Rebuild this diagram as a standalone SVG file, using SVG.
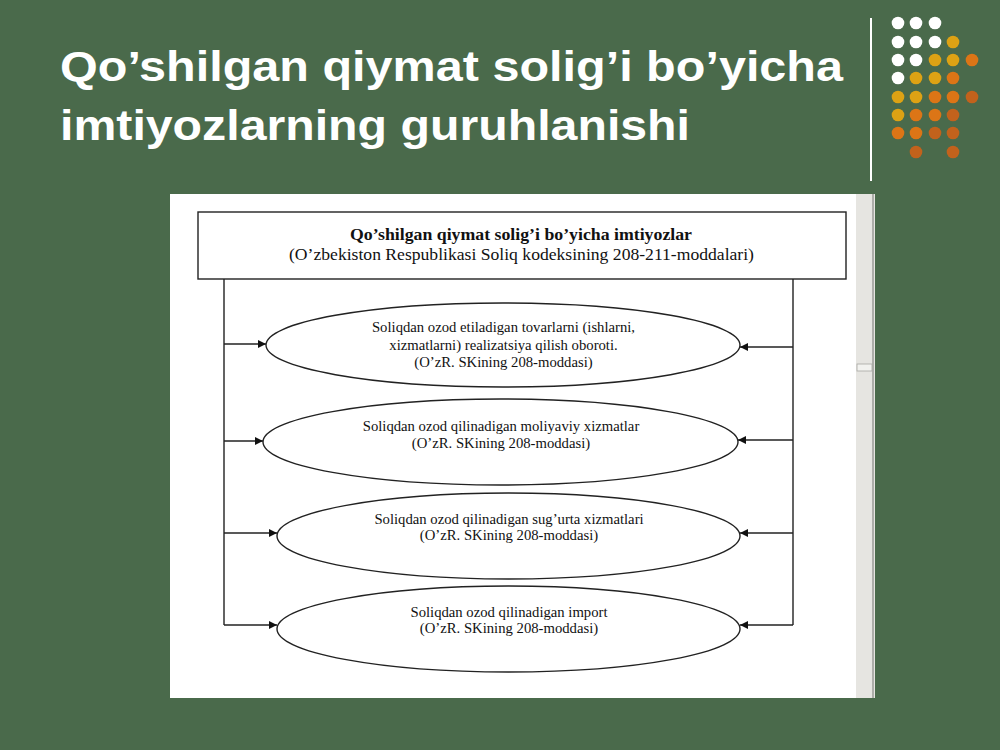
<svg xmlns="http://www.w3.org/2000/svg" width="1000" height="750" viewBox="0 0 1000 750">
<defs>
<marker id="ah" viewBox="0 0 10 10" refX="10" refY="5" markerWidth="9" markerHeight="8" markerUnits="userSpaceOnUse" orient="auto">
<path d="M0,0 L10,5 L0,10 z" fill="#111"/>
</marker>
<style>
.title{font-family:"Liberation Sans",Arial,sans-serif;font-weight:bold;font-size:42px;fill:#fff}
.t{font-family:"Liberation Serif","Times New Roman",serif;font-size:14.7px;fill:#111;text-anchor:middle}
.hb{font-family:"Liberation Serif","Times New Roman",serif;font-size:17px;font-weight:bold;fill:#111;text-anchor:middle}
.h{font-family:"Liberation Serif","Times New Roman",serif;font-size:17px;fill:#111;text-anchor:middle}
.ell{fill:#fff;stroke:#222;stroke-width:1.4}
.con{stroke:#222;stroke-width:1.4;fill:none}
.w{fill:#fff}.g{fill:#dda214}.o{fill:#dc7516}.d{fill:#c2621c}
</style>
</defs>
<rect width="1000" height="750" fill="#4a6a4b"/>
<text class="title" x="60" y="81" textLength="783" lengthAdjust="spacingAndGlyphs">Qo’shilgan qiymat solig’i bo’yicha</text>
<text class="title" x="60" y="140" textLength="630" lengthAdjust="spacingAndGlyphs">imtiyozlarning guruhlanishi</text>
<line x1="871" y1="18" x2="871" y2="181" stroke="#fff" stroke-width="2"/>
<g id="dots">
<circle class="w" cx="898" cy="23" r="6.3"/><circle class="w" cx="916" cy="23" r="6.3"/><circle class="w" cx="935" cy="23" r="6.3"/>
<circle class="w" cx="898" cy="42" r="6.3"/><circle class="w" cx="916" cy="42" r="6.3"/><circle class="w" cx="935" cy="42" r="6.3"/><circle class="g" cx="953" cy="42" r="6.3"/>
<circle class="w" cx="898" cy="60" r="6.3"/><circle class="w" cx="916" cy="60" r="6.3"/><circle class="g" cx="935" cy="60" r="6.3"/><circle class="g" cx="953" cy="60" r="6.3"/><circle class="o" cx="972" cy="60" r="6.3"/>
<circle class="w" cx="898" cy="78" r="6.3"/><circle class="g" cx="916" cy="78" r="6.3"/><circle class="g" cx="935" cy="78" r="6.3"/><circle class="o" cx="953" cy="78" r="6.3"/>
<circle class="g" cx="898" cy="97" r="6.3"/><circle class="g" cx="916" cy="97" r="6.3"/><circle class="o" cx="935" cy="97" r="6.3"/><circle class="o" cx="953" cy="97" r="6.3"/><circle class="d" cx="972" cy="97" r="6.3"/>
<circle class="g" cx="898" cy="115" r="6.3"/><circle class="o" cx="916" cy="115" r="6.3"/><circle class="o" cx="935" cy="115" r="6.3"/><circle class="d" cx="953" cy="115" r="6.3"/>
<circle class="o" cx="898" cy="133" r="6.3"/><circle class="o" cx="916" cy="133" r="6.3"/><circle class="d" cx="935" cy="133" r="6.3"/><circle class="d" cx="953" cy="133" r="6.3"/>
<circle class="d" cx="916" cy="152" r="6.3"/><circle class="d" cx="953" cy="152" r="6.3"/>
</g>
<rect x="170" y="194" width="686" height="504" fill="#fff"/>
<rect x="856" y="194" width="19" height="504" fill="#e6e5e1"/>
<line x1="873" y1="194" x2="873" y2="698" stroke="#9a9a96" stroke-width="1.5"/>
<rect x="857" y="364" width="15" height="7" fill="#f2f2ef" stroke="#a8a8a4" stroke-width="0.8"/>
<g id="connectors">
<path class="con" d="M224,279 V625 M793,279 V625"/>
<line class="con" x1="224" y1="344" x2="266" y2="344" marker-end="url(#ah)"/>
<line class="con" x1="793" y1="347" x2="740" y2="347" marker-end="url(#ah)"/>
<line class="con" x1="224" y1="441" x2="263" y2="441" marker-end="url(#ah)"/>
<line class="con" x1="793" y1="440" x2="738" y2="440" marker-end="url(#ah)"/>
<line class="con" x1="224" y1="533" x2="277" y2="533" marker-end="url(#ah)"/>
<line class="con" x1="793" y1="533" x2="740" y2="533" marker-end="url(#ah)"/>
<line class="con" x1="224" y1="625" x2="277" y2="625" marker-end="url(#ah)"/>
<line class="con" x1="793" y1="625" x2="740" y2="625" marker-end="url(#ah)"/>
</g>
<g id="header">
<rect x="198" y="212" width="648" height="67" fill="#fff" stroke="#222" stroke-width="1.4"/>
<text class="hb" x="521" y="240" textLength="342" lengthAdjust="spacingAndGlyphs">Qo’shilgan qiymat solig’i bo’yicha imtiyozlar</text>
<text class="h" x="521.5" y="260" textLength="465" lengthAdjust="spacingAndGlyphs">(O’zbekiston Respublikasi Soliq kodeksining 208-211-moddalari)</text>
</g>
<g id="n1">
<ellipse class="ell" cx="503" cy="345" rx="237" ry="42"/>
<text class="t" x="503.5" y="332">Soliqdan ozod etiladigan tovarlarni (ishlarni,</text>
<text class="t" x="503.5" y="350">xizmatlarni) realizatsiya qilish oboroti.</text>
<text class="t" x="503.5" y="367">(O’zR. SKining 208-moddasi)</text>
</g>
<g id="n2">
<ellipse class="ell" cx="500.5" cy="442" rx="237.5" ry="43"/>
<text class="t" x="501" y="431">Soliqdan ozod qilinadigan moliyaviy xizmatlar</text>
<text class="t" x="501" y="448">(O’zR. SKining 208-moddasi)</text>
</g>
<g id="n3">
<ellipse class="ell" cx="508.5" cy="536" rx="231.5" ry="43"/>
<text class="t" x="509" y="524">Soliqdan ozod qilinadigan sug’urta xizmatlari</text>
<text class="t" x="509" y="540">(O’zR. SKining 208-moddasi)</text>
</g>
<g id="n4">
<ellipse class="ell" cx="508.5" cy="629" rx="231.5" ry="43"/>
<text class="t" x="509" y="617">Soliqdan ozod qilinadigan import</text>
<text class="t" x="509" y="633">(O’zR. SKining 208-moddasi)</text>
</g>
</svg>
